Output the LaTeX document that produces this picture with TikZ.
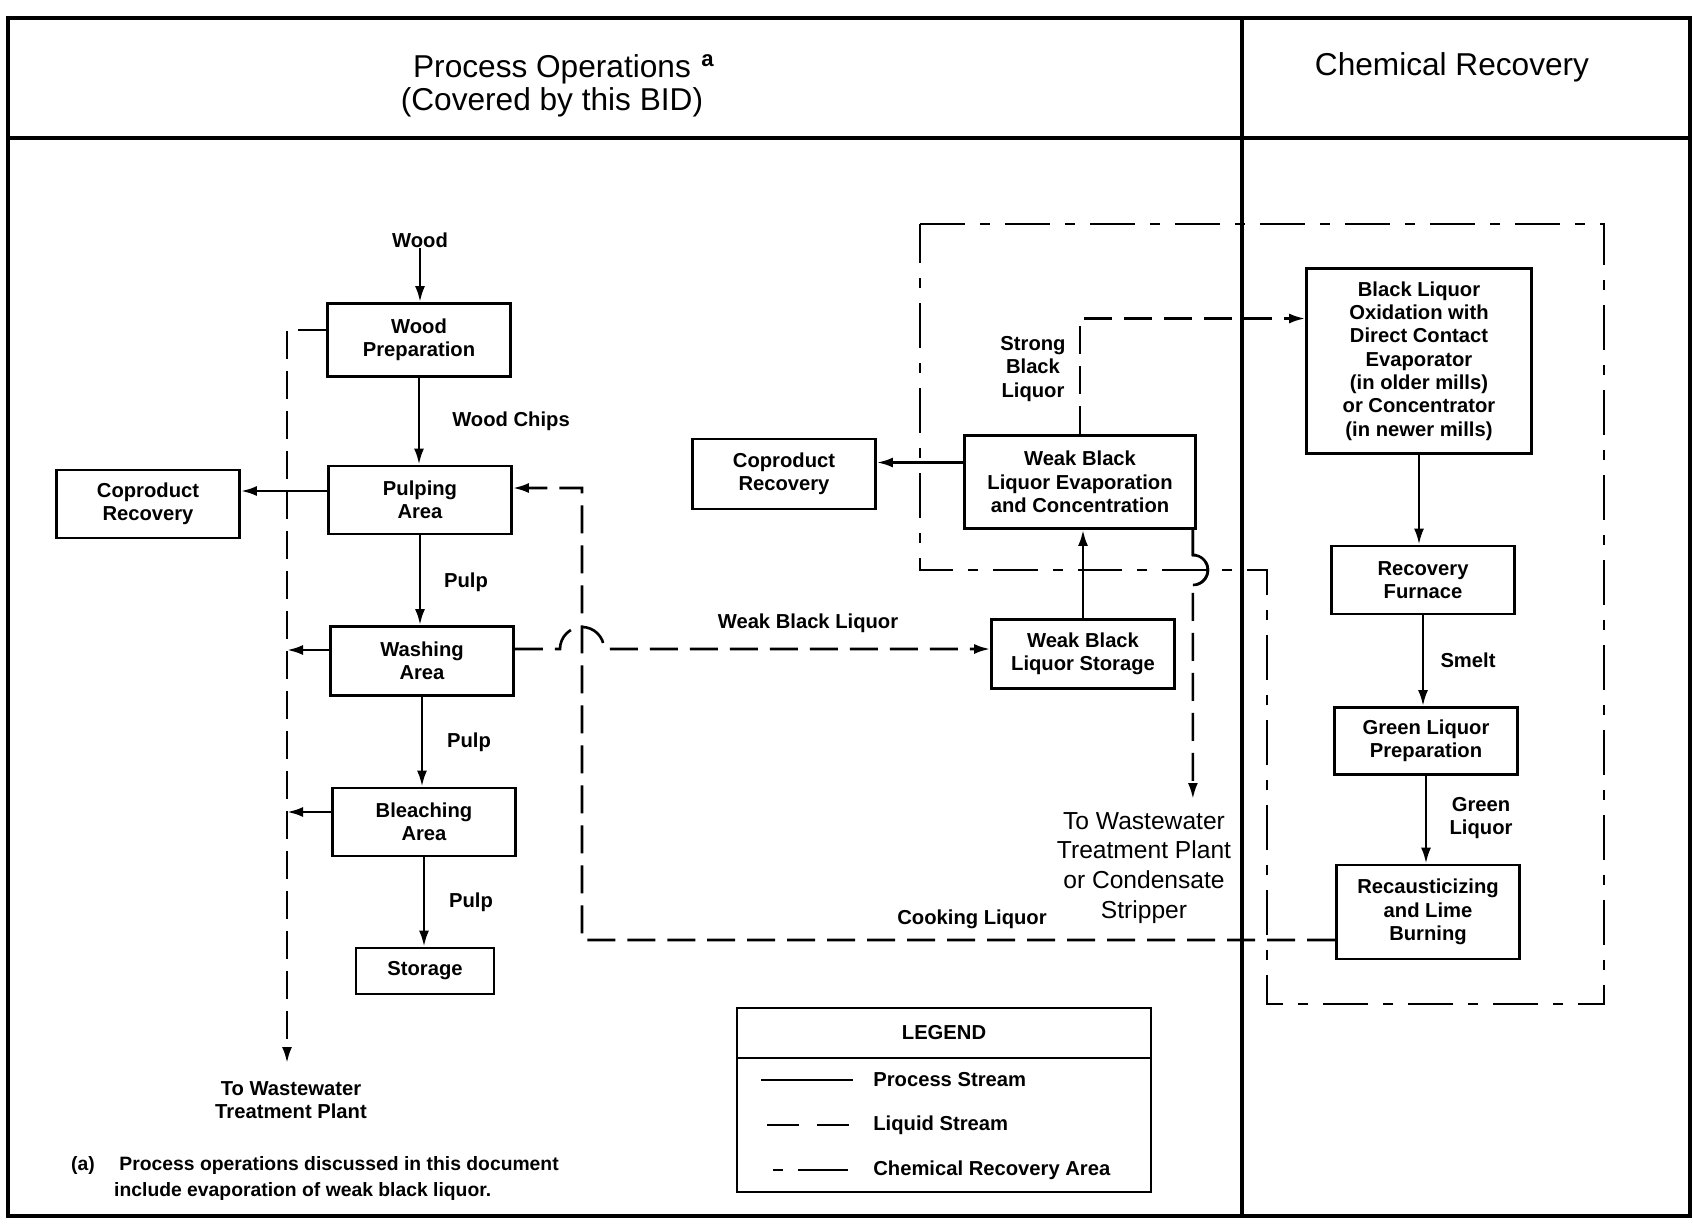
\documentclass[tikz,border=0pt]{standalone}
\usepackage{fontspec}
\setmainfont{Liberation Sans}
\usetikzlibrary{arrows.meta, calc}

\newcommand{\boxfont}{\fontsize{11.5}{13.3}\selectfont\bfseries}
\newcommand{\headfont}{\fontsize{18}{18.8}\selectfont}
\newcommand{\outfont}{\fontsize{14}{17}\selectfont}
\newcommand{\notefont}{\fontsize{11}{14.8}\selectfont\bfseries}

\tikzset{
  unit/.style={draw, line width=1.6pt, align=center, font=\boxfont, inner sep=1pt, minimum width=3.66cm, minimum height=1.36cm},
  lbl/.style={align=center, font=\boxfont, inner sep=0pt},
  proc/.style={line width=1.5pt, -{Latex[length=3.2mm,width=2mm]}},
  liq/.style={line width=1.5pt, dash pattern=on 5.6mm off 2.4mm},
  liqkey/.style={dash pattern=on 6.4mm off 3.6mm},
  chem/.style={line width=1.5pt, dash pattern=on 9mm off 3mm on 2mm off 3mm},
  chemkey/.style={dash pattern=on 2mm off 3mm on 10mm off 3mm},
  frame/.style={line width=2pt},
}

\begin{document}
\begin{tikzpicture}[x=0.02cm, y=-0.02cm]
\useasboundingbox (0,0) rectangle (1693,1227);
\draw[frame] (8,18) rectangle (1690,1216);
\draw[frame] (8,138) -- (1690,138);
\draw[frame] (1242,18) -- (1242,1216);
\node[font=\headfont, align=center] (hdproc) at (552,86) {Process Operations\rlap{\,\,\textsuperscript{\bfseries a}}\\(Covered by this BID)};
\node[font=\headfont] (hdchem) at (1452,67) {Chemical Recovery};

\node[lbl] (wood) at (420,240) {Wood};
\node[unit, minimum height=1.46cm] (wprep) at (419,340) {Wood\\Preparation};
\node[unit] (pulp) at (420,500) {Pulping\\Area};
\node[unit] (cop1) at (148,504) {Coproduct\\Recovery};
\node[unit, minimum height=1.38cm] (wash) at (422,661) {Washing\\Area};
\node[unit] (bleach) at (424,822) {Bleaching\\Area};
\node[unit, minimum width=2.76cm, minimum height=0.92cm] (store) at (425,971) {Storage};
\node[unit, minimum height=1.4cm] (cop2) at (784,474) {Coproduct\\Recovery};
\node[unit, minimum width=4.62cm, minimum height=1.86cm] (evap) at (1080,482) {Weak Black\\Liquor Evaporation\\and Concentration};
\node[unit, minimum height=1.38cm] (wbls) at (1083,654) {Weak Black\\Liquor Storage};
\node[unit, minimum width=4.5cm, minimum height=3.7cm] (oxid) at (1419,361) {Black Liquor\\Oxidation with\\Direct Contact\\Evaporator\\(in older mills)\\or Concentrator\\(in newer mills)};
\node[unit] (furn) at (1423,580) {Recovery\\Furnace};
\node[unit, minimum height=1.34cm] (green) at (1426,741) {Green Liquor\\Preparation};
\node[unit, minimum height=1.88cm] (recaus) at (1428,912) {Recausticizing\\and Lime\\Burning};

\node[lbl] (chips) at (511,421) {Wood Chips};
\node[lbl] (pulpa) at (466,582) {Pulp};
\node[lbl] (pulpb) at (469,742) {Pulp};
\node[lbl] (pulpc) at (471,902) {Pulp};
\node[lbl] (wbl) at (808,623) {Weak Black Liquor};
\node[lbl] (sbl) at (1033,369) {Strong\\Black\\Liquor};
\node[lbl] (smelt) at (1468,660) {Smelt};
\node[lbl] (grl) at (1481,818) {Green\\Liquor};
\node[lbl] (cook) at (972,919) {Cooking Liquor};
\node[lbl] (ww1) at (291,1100) {To Wastewater\\Treatment Plant};
\node[font=\outfont, align=center] (ww2) at (1144,868) {To Wastewater\\Treatment Plant\\or Condensate\\Stripper};
\node[font=\notefont, anchor=west] (fna) at (65,1165) {(a)};
\node[font=\notefont, align=left, anchor=west] (fnt) at (108,1178) {\hspace{3pt}Process operations discussed in this document\\include evaporation of weak black liquor.};

\foreach \a/\b in {wprep/pulp, pulp/wash, wash/bleach, bleach/store, oxid/furn, furn/green, green/recaus}
  \draw[proc] (\a.south) -- (\a.south |- \b.north);
\draw[proc] (wood) -- (wood |- wprep.north);
\draw[proc] (wbls.north) -- (wbls.north |- evap.south);

\coordinate (pulpL) at ([yshift=1.8mm]pulp.west);
\draw[proc] (pulpL) -- (pulpL -| cop1.east);
\coordinate (wprepL) at ([yshift=2mm]wprep.west);
\coordinate (ww1top) at (287,1063);
\draw[proc, liq] (wprepL) -| (ww1top);
\coordinate (washL) at ([yshift=2.2mm]wash.west);
\draw[proc] (washL) -- (washL -| ww1top);
\coordinate (bleachL) at ([yshift=2mm]bleach.west);
\draw[proc] (bleachL) -- (bleachL -| ww1top);

\coordinate (recausL) at ([yshift=-5.6mm]recaus.west);
\coordinate (pulpR) at ([yshift=2.4mm]pulp.east);
\coordinate (cooktop) at (582,488);
\draw[proc, liq] (recausL) -| (cooktop) -- (pulpR);

\coordinate (washR) at ([yshift=2.4mm]wash.east);
\coordinate (hopA) at (560,0);
\draw[proc, liq] (washR) -- (washR -| hopA) arc[start angle=180, end angle=0, radius=4.4mm] -- (washR -| wbls.west);

\coordinate (evapL) at ([yshift=3.9mm]evap.west);
\draw[proc] (evapL) -- (evapL -| cop2.east);
\coordinate (oxidL) at ([yshift=8.5mm]oxid.west);
\draw[proc, liq] (evap.north) |- (oxidL);
\coordinate (evapR) at ([xshift=-0.8mm]evap.south east);
\coordinate (hopB) at (evapR |- 0,555);
\coordinate (ww2top) at (evapR |- 0,799);
\draw[proc, liq] (evapR) -- (hopB) arc[start angle=90, end angle=-90, radius=3mm] -- (ww2top);
\draw[line width=1.5pt] (evapR) -- (hopB) arc[start angle=90, end angle=-90, radius=3mm];

\draw[chem] (920,224) -- (1604,224) -- (1604,1004) -- (1267,1004) -- (1267,570) -- (920,570) -- cycle;

\draw[line width=1.5pt] (737,1008) rectangle (1151,1192);
\draw[line width=1.5pt] (737,1058) -- (1151,1058);
\node[lbl] (leg) at (944,1033) {LEGEND};
\foreach \y/\s/\st/\txt in {1080/761/solid/Process Stream, 1125/767/liqkey/Liquid Stream, 1170/773/chemkey/Chemical Recovery Area} {
  \draw[line width=1.5pt, \st] (\s,\y) -- (853,\y);
  \node[lbl, anchor=west] (key\y) at (873,\y) {\txt};
}
\end{tikzpicture}
\end{document}
